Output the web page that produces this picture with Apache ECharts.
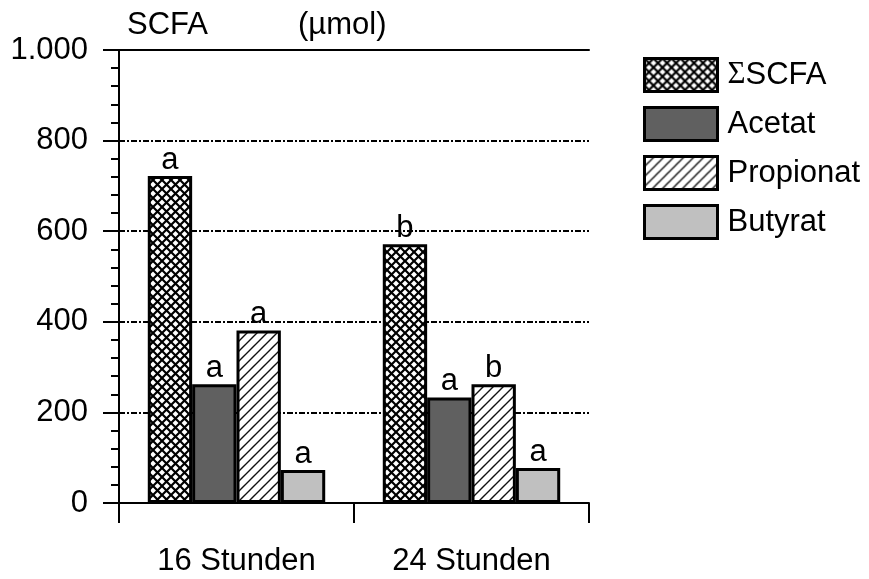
<!DOCTYPE html>
<html><head><meta charset="utf-8">
<script src="https://cdn.jsdelivr.net/npm/echarts@6/dist/echarts.min.js"></script>
<style>html,body{margin:0;padding:0;background:#fff}#c{width:869px;height:579px}</style>
</head><body><div id="c"></div>
<script>
const categories = ['16 Stunden', '24 Stunden'];
const seriesNames = ['ΣSCFA', 'Acetat', 'Propionat', 'Butyrat'];
const sumScfa = [722, 571];
const acetat = [262, 233];
const propionat = [381, 262];
const butyrat = [73, 77];
const sumLetters = ['a', 'b'];
const acetatLetters = ['a', 'a'];
const propionatLetters = ['a', 'b'];
const butyratLetters = ['a', 'a'];
const yMin = 0, yMax = 1000, yStep = 200;

const FONT = 'Liberation Sans, Arial, sans-serif';
const FS = 31;

function crossHatch() {
  const s = 9, c = document.createElement('canvas');
  c.width = s; c.height = s;
  const g = c.getContext('2d');
  g.fillStyle = '#fff'; g.fillRect(0, 0, s, s);
  g.strokeStyle = '#000'; g.lineWidth = 2.2;
  g.beginPath();
  g.moveTo(-1, -1); g.lineTo(s + 1, s + 1);
  g.moveTo(-1, s + 1); g.lineTo(s + 1, -1);
  g.stroke();
  return c;
}
function diagHatch() {
  const s = 10, c = document.createElement('canvas');
  c.width = s; c.height = s;
  const g = c.getContext('2d');
  g.fillStyle = '#fff'; g.fillRect(0, 0, s, s);
  g.strokeStyle = '#111'; g.lineWidth = 1.4;
  g.beginPath();
  g.moveTo(-1, s + 1); g.lineTo(s + 1, -1);
  g.moveTo(-1, 1); g.lineTo(1, -1);
  g.moveTo(s - 1, s + 1); g.lineTo(s + 1, s - 1);
  g.stroke();
  return c;
}

const fills = [
  { image: crossHatch(), repeat: 'repeat' },
  '#606060',
  { image: diagHatch(), repeat: 'repeat' },
  '#c0c0c0'
];
const values = [sumScfa, acetat, propionat, butyrat];
const letters = [sumLetters, acetatLetters, propionatLetters, butyratLetters];

const chart = echarts.init(document.getElementById('c'), null, { renderer: 'canvas' });

const series = seriesNames.map((name, i) => ({
  name: name,
  type: 'bar',
  data: values[i],
  barGap: 0,
  barCategoryGap: '24.5%',
  itemStyle: { color: fills[i], borderColor: '#000', borderWidth: 3 },
  label: {
    show: true, position: 'top', distance: 0,
    fontSize: FS, fontFamily: FONT, color: '#000',
    formatter: p => letters[i][p.dataIndex]
  }
}));

chart.setOption({
  animation: false,
  backgroundColor: '#fff',
  title: [
    { text: 'SCFA', left: 127, top: 10, padding: 0, textStyle: { fontSize: FS, fontWeight: 'normal', fontFamily: FONT, color: '#000' } },
    { text: '(µmol)', left: 298, top: 10, padding: 0, textStyle: { fontSize: FS, fontWeight: 'normal', fontFamily: FONT, color: '#000' } }
  ],
  legend: {
    orient: 'vertical', left: 638, top: 52,
    itemWidth: 73, itemHeight: 33, itemGap: 13,
    icon: 'rect',
    itemStyle: { borderColor: '#000', borderWidth: 3 },
    textStyle: { fontSize: FS, fontFamily: FONT, color: '#000', padding: [0, 0, 0, 5],
      rich: { s: { fontSize: FS, fontFamily: 'Liberation Serif, serif', color: '#000' } } },
    formatter: n => n === 'ΣSCFA' ? '{s|Σ}SCFA' : n,
    data: seriesNames
  },
  grid: { left: 119, right: 280, top: 50, bottom: 76, containLabel: false },
  xAxis: [{
    type: 'category', data: categories, position: 'bottom',
    axisLine: { lineStyle: { color: '#000', width: 2 } },
    axisTick: { show: true, length: 20, alignWithLabel: false, lineStyle: { color: '#000', width: 2 } },
    axisLabel: { fontSize: FS, fontFamily: FONT, color: '#000', margin: 43 },
    splitLine: { show: false }
  }, {
    type: 'category', data: categories, position: 'top',
    axisLine: { lineStyle: { color: '#000', width: 2 } },
    axisTick: { show: false }, axisLabel: { show: false }, splitLine: { show: false }
  }],
  yAxis: {
    type: 'value', min: yMin, max: yMax, interval: yStep,
    axisLine: { show: true, lineStyle: { color: '#000', width: 2 } },
    axisTick: { show: true, length: 16, lineStyle: { color: '#000', width: 2 } },
    minorTick: { show: true, splitNumber: 5, length: 8, lineStyle: { color: '#000', width: 2 } },
    axisLabel: { fontSize: FS, fontFamily: FONT, color: '#000', margin: 31,
      formatter: v => String(v).replace(/\B(?=(\d{3})+(?!\d))/g, '.') },
    splitLine: { show: true, lineStyle: { color: '#000', width: 2, type: [6, 2, 2, 2] } }
  },
  series: series
});
</script>
</body></html>
